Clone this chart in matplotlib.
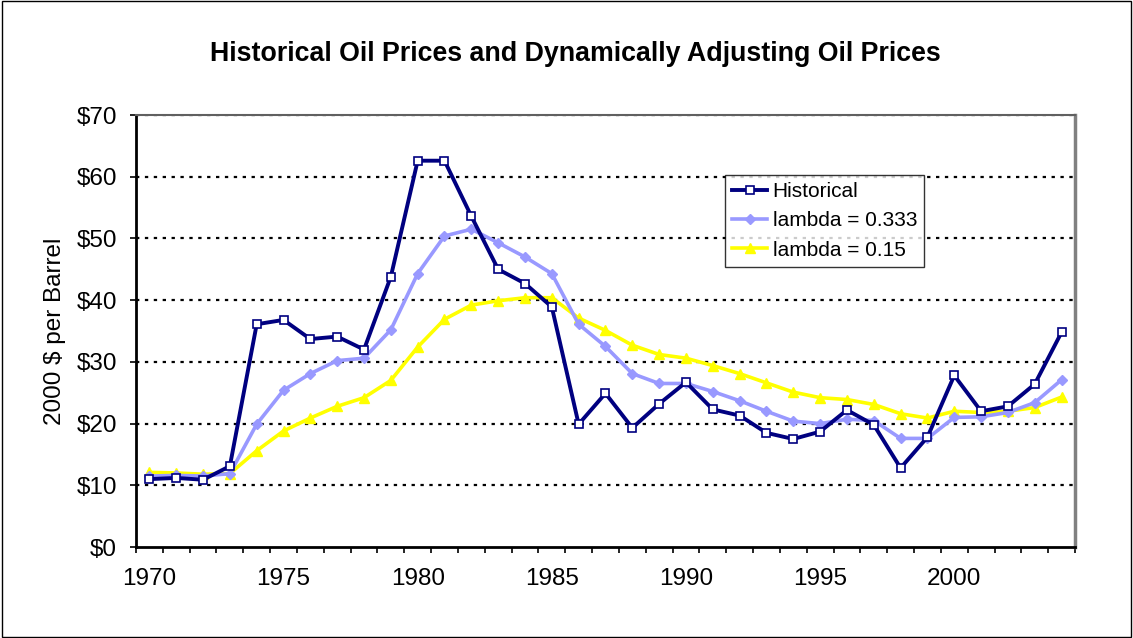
import matplotlib.pyplot as plt
from matplotlib.patches import Rectangle
from matplotlib.ticker import FuncFormatter

plt.rcParams['font.family'] = ['Liberation Sans', 'DejaVu Sans']

years = list(range(1970, 2005))

historical = [11.0, 11.2, 10.9, 13.1, 36.1, 36.8, 33.7, 34.1, 32.0, 43.8,
              62.6, 62.6, 53.6, 45.0, 42.7, 38.9, 19.9, 24.9, 19.3, 23.2,
              26.7, 22.3, 21.3, 18.5, 17.5, 18.7, 22.2, 19.8, 12.8, 17.8,
              27.8, 22.0, 22.8, 26.4, 34.8]

lam_333 = [11.5, 11.6, 11.5, 11.9, 19.9, 25.4, 28.1, 30.2, 30.6, 35.2,
           44.3, 50.4, 51.5, 49.3, 47.0, 44.3, 36.1, 32.5, 28.1, 26.5,
           26.5, 25.2, 23.7, 22.0, 20.4, 20.0, 20.7, 20.5, 17.6, 17.6,
           21.0, 21.1, 21.8, 23.4, 27.1]

lam_15 = [12.1, 12.0, 11.8, 11.9, 15.6, 18.8, 20.9, 22.8, 24.2, 27.0,
          32.4, 36.9, 39.2, 39.9, 40.4, 40.4, 37.1, 35.1, 32.7, 31.2,
          30.6, 29.4, 28.1, 26.6, 25.1, 24.2, 23.9, 23.1, 21.6, 20.9,
          22.0, 21.8, 22.0, 22.6, 24.3]

fig = plt.figure(figsize=(11.33, 6.38), dpi=100)
ax = fig.add_axes([0.120, 0.1426, 0.8288, 0.6771])

ax.plot(years, lam_15, color="#FFFF00", lw=2.6, marker="^", ms=7,
        mfc="#FFFF00", mec="#FFFF00", label="lambda = 0.15", zorder=3)
ax.plot(years, lam_333, color="#9999FF", lw=2.6, marker="D", ms=5,
        mfc="#9999FF", mec="#9999FF", label="lambda = 0.333", zorder=4)
ax.plot(years, historical, color="#000080", lw=2.8, marker="s", ms=5.5,
        mfc="white", mec="#000080", mew=1.2, label="Historical", zorder=5)

ax.set_xlim(1969.5, 2004.5)
ax.set_ylim(0, 70)
ax.set_yticks(range(0, 71, 10))
ax.yaxis.set_major_formatter(FuncFormatter(lambda v, p: f"${v:.0f}"))
ax.set_xticks(range(1970, 2004, 5))
ax.set_xticks([y + 0.5 for y in range(1969, 2005)], minor=True)
ax.tick_params(axis="x", which="major", length=0, pad=15, labelsize=17.5)
ax.tick_params(axis="x", which="minor", length=4.5, width=1.2, direction="out")
ax.tick_params(axis="y", length=4.5, width=1.2, direction="out", labelsize=17.5, pad=9)

for v in range(10, 71, 10):
    ax.axhline(v, color="black", lw=1.6, ls=(0, (1.5, 2.5)), zorder=1)

ax.spines["left"].set_linewidth(2)
ax.spines["bottom"].set_linewidth(2)
ax.spines["top"].set_color("#606060")
ax.spines["right"].set_color("#808080")
ax.spines["top"].set_linewidth(1.5)
ax.spines["right"].set_linewidth(2.5)

ax.set_ylabel("2000 $ per Barrel", fontsize=17.5, labelpad=8)

handles, labels = ax.get_legend_handles_labels()
leg = ax.legend(handles[::-1], labels[::-1], loc="upper left",
                bbox_to_anchor=(0.627, 0.862), fontsize=15, frameon=True,
                fancybox=False, edgecolor="black", handlelength=1.7,
                handletextpad=0.25, borderpad=0.35, labelspacing=0.5,
                borderaxespad=0)
leg.get_frame().set_linewidth(1)

fig.text(0.508, 0.916, "Historical Oil Prices and Dynamically Adjusting Oil Prices",
         ha="center", va="center", fontsize=19.3, fontweight="bold")

fig.patches.append(Rectangle((0.002, 0.002), 0.996, 0.996, transform=fig.transFigure,
                             fill=False, edgecolor="black", lw=1))

fig.savefig("out.png", dpi=100)
